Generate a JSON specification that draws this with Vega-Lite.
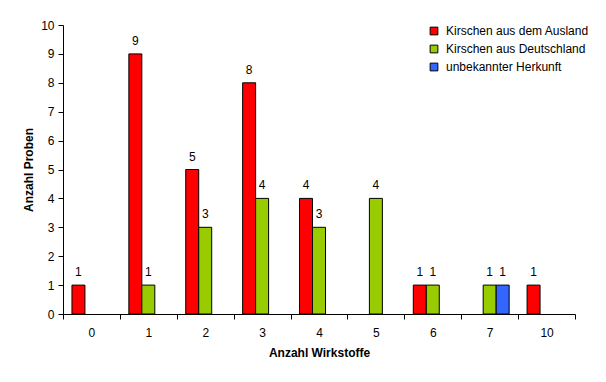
{
  "$schema": "https://vega.github.io/schema/vega-lite/v6.json",
  "width": 512,
  "height": 289,
  "autosize": {"type": "none"},
  "padding": {"left": 63, "top": 25, "right": 31, "bottom": 68},
  "background": "white",
  "config": {
    "font": "Liberation Sans",
    "view": {"stroke": null},
    "axis": {"labelFont": "Liberation Sans", "titleFont": "Liberation Sans", "labelColor": "black", "titleColor": "black", "domainColor": "black", "tickColor": "black", "labelFontSize": 12, "titleFontSize": 12, "titleFontWeight": "bold", "grid": false}
  },
  "data": {
    "values": [
      {"Wirkstoffe": "0", "Herkunft": "Kirschen aus dem Ausland", "Proben": 1},
      {"Wirkstoffe": "1", "Herkunft": "Kirschen aus dem Ausland", "Proben": 9},
      {"Wirkstoffe": "1", "Herkunft": "Kirschen aus Deutschland", "Proben": 1},
      {"Wirkstoffe": "2", "Herkunft": "Kirschen aus dem Ausland", "Proben": 5},
      {"Wirkstoffe": "2", "Herkunft": "Kirschen aus Deutschland", "Proben": 3},
      {"Wirkstoffe": "3", "Herkunft": "Kirschen aus dem Ausland", "Proben": 8},
      {"Wirkstoffe": "3", "Herkunft": "Kirschen aus Deutschland", "Proben": 4},
      {"Wirkstoffe": "4", "Herkunft": "Kirschen aus dem Ausland", "Proben": 4},
      {"Wirkstoffe": "4", "Herkunft": "Kirschen aus Deutschland", "Proben": 3},
      {"Wirkstoffe": "5", "Herkunft": "Kirschen aus Deutschland", "Proben": 4},
      {"Wirkstoffe": "6", "Herkunft": "Kirschen aus dem Ausland", "Proben": 1},
      {"Wirkstoffe": "6", "Herkunft": "Kirschen aus Deutschland", "Proben": 1},
      {"Wirkstoffe": "7", "Herkunft": "Kirschen aus Deutschland", "Proben": 1},
      {"Wirkstoffe": "7", "Herkunft": "unbekannter Herkunft", "Proben": 1},
      {"Wirkstoffe": "10", "Herkunft": "Kirschen aus dem Ausland", "Proben": 1}
    ]
  },
  "encoding": {
    "x": {
      "field": "Wirkstoffe", "type": "ordinal",
      "sort": ["0", "1", "2", "3", "4", "5", "6", "7", "10"],
      "scale": {"paddingInner": 0, "paddingOuter": 0},
      "axis": {"title": "Anzahl Wirkstoffe", "labelAngle": 0, "tickBand": "extent", "tickSize": 5, "labelPadding": 8, "titlePadding": 9}
    },
    "xOffset": {
      "field": "Herkunft", "type": "nominal",
      "sort": ["Kirschen aus dem Ausland", "Kirschen aus Deutschland", "unbekannter Herkunft"],
      "scale": {"domain": ["Kirschen aus dem Ausland", "Kirschen aus Deutschland", "unbekannter Herkunft"], "paddingInner": 0, "paddingOuter": 0.69}
    },
    "y": {
      "field": "Proben", "type": "quantitative",
      "scale": {"domain": [0, 10], "nice": false},
      "axis": {"title": "Anzahl Proben", "values": [0,1,2,3,4,5,6,7,8,9,10], "tickSize": 5, "labelPadding": 4, "titlePadding": 5}
    }
  },
  "layer": [
    {
      "mark": {"type": "bar", "stroke": "black", "strokeWidth": 1},
      "encoding": {
        "color": {
          "field": "Herkunft", "type": "nominal",
          "scale": {"domain": ["Kirschen aus dem Ausland", "Kirschen aus Deutschland", "unbekannter Herkunft"], "range": ["#FF0000", "#99CC00", "#3366FF"]},
          "legend": {
            "title": null, "orient": "none", "legendX": 365, "legendY": 0,
            "symbolType": "square", "symbolSize": 60, "symbolStrokeColor": "black", "symbolStrokeWidth": 1,
            "labelFontSize": 12, "labelColor": "black", "labelFont": "Liberation Sans", "rowPadding": 6, "labelOffset": 6
          }
        }
      }
    },
    {
      "mark": {"type": "text", "baseline": "bottom", "dy": -6, "fontSize": 12, "color": "black"},
      "encoding": {"text": {"field": "Proben", "type": "quantitative"}}
    }
  ]
}
